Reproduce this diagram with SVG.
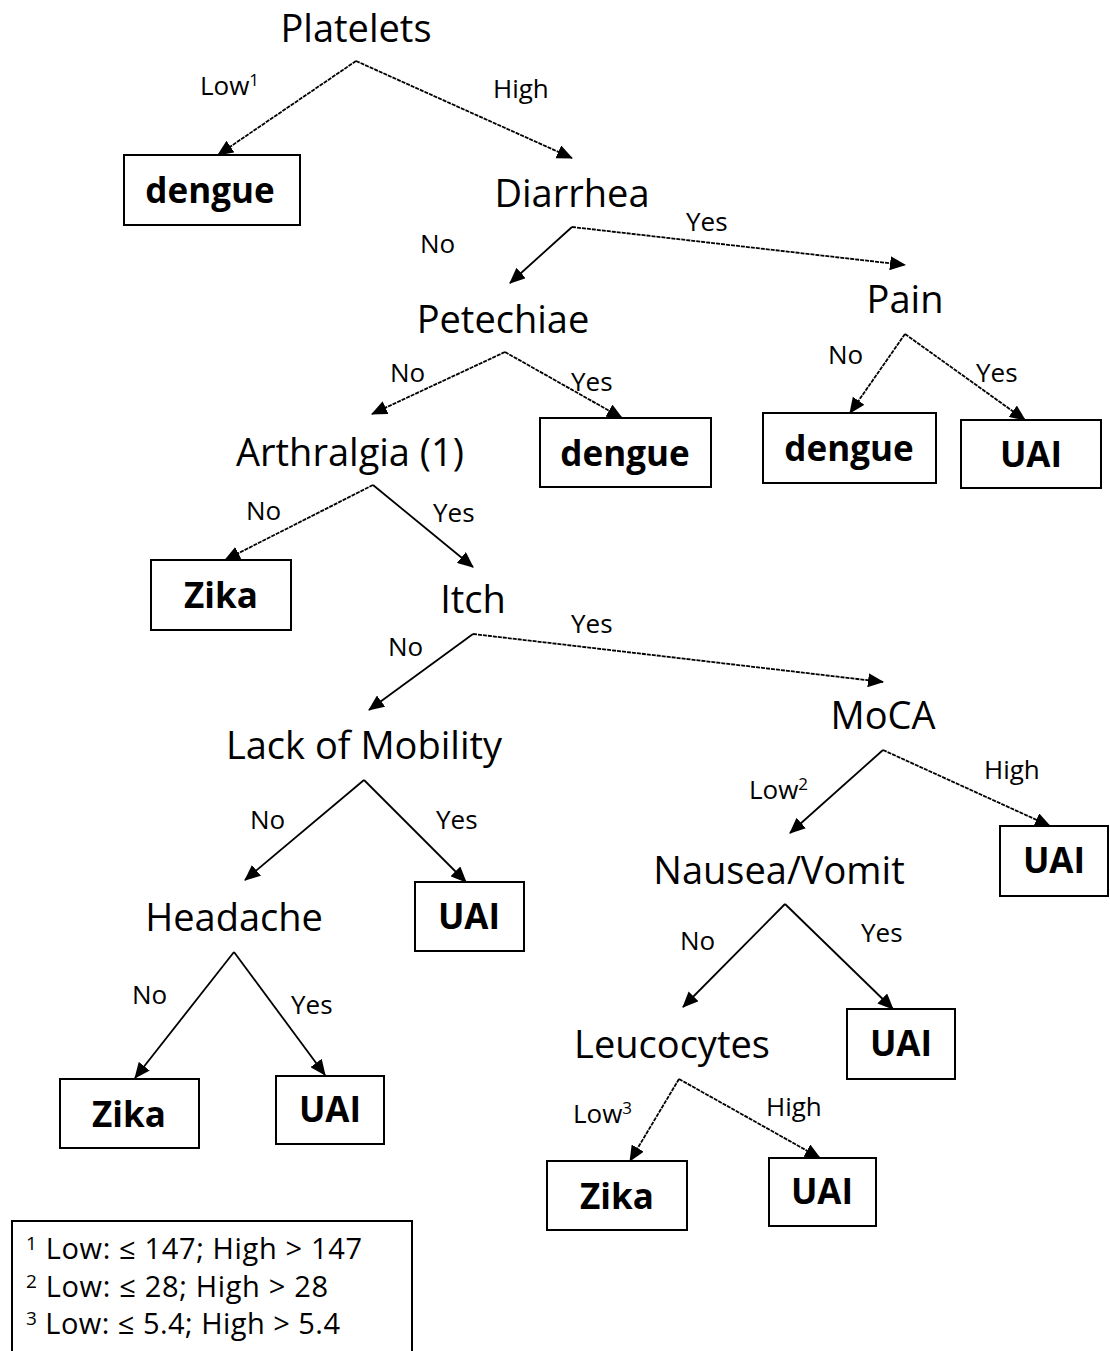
<svg xmlns="http://www.w3.org/2000/svg" width="1110" height="1351" viewBox="0 0 1110 1351">
<defs>
<style>
.lbl{font-family:"Open Sans","Liberation Sans",sans-serif;font-size:38px;fill:#000;text-anchor:middle}
.leaf{font-family:"Open Sans","Liberation Sans",sans-serif;font-size:35px;font-weight:bold;fill:#000;text-anchor:middle}
.edge{font-family:"Open Sans","Liberation Sans",sans-serif;font-size:26px;fill:#000}
.sup{font-size:17px}
.lsup{font-size:19px}
.box{fill:#fff;stroke:#000;stroke-width:2}
.con{fill:none;stroke:#000;stroke-width:1.8;marker-end:url(#arr)}
.dash{stroke-dasharray:4 1}
.leg{font-family:"Open Sans","Liberation Sans",sans-serif;font-size:29px;fill:#000}
</style>
<marker id="arr" markerUnits="userSpaceOnUse" markerWidth="16" markerHeight="14" refX="15" refY="7" orient="auto" viewBox="0 0 16 14">
<path d="M0,0 L16,7 L0,14 z" fill="#000"/>
</marker>
</defs>
<rect width="1110" height="1351" fill="#fff"/>

<g id="connectors">
<line class="con dash" x1="356" y1="61" x2="218" y2="155"/>
<line class="con dash" x1="356" y1="61" x2="572" y2="158"/>
<line class="con" x1="572" y1="227" x2="510" y2="283"/>
<line class="con dash" x1="572" y1="227" x2="905" y2="265"/>
<line class="con dash" x1="505" y1="352" x2="372" y2="414"/>
<line class="con dash" x1="505" y1="352" x2="622" y2="418"/>
<line class="con dash" x1="905" y1="334" x2="850" y2="413"/>
<line class="con dash" x1="905" y1="334" x2="1025" y2="420"/>
<line class="con dash" x1="373" y1="485" x2="225" y2="560"/>
<line class="con" x1="373" y1="485" x2="473" y2="567"/>
<line class="con" x1="473" y1="634" x2="369" y2="710"/>
<line class="con dash" x1="473" y1="634" x2="883" y2="682"/>
<line class="con" x1="364" y1="780" x2="245" y2="880"/>
<line class="con" x1="364" y1="780" x2="466" y2="882"/>
<line class="con" x1="234" y1="952" x2="135" y2="1078"/>
<line class="con" x1="234" y1="952" x2="325" y2="1075"/>
<line class="con" x1="883" y1="750" x2="790" y2="833"/>
<line class="con dash" x1="883" y1="750" x2="1050" y2="826"/>
<line class="con" x1="785" y1="904" x2="683" y2="1007"/>
<line class="con" x1="785" y1="904" x2="893" y2="1009"/>
<line class="con dash" x1="679" y1="1079" x2="630" y2="1161"/>
<line class="con dash" x1="679" y1="1079" x2="820" y2="1158"/>

<text class="edge" x="200" y="95">Low<tspan class="sup" dy="-9">1</tspan></text>
<text class="edge" x="493" y="98">High</text>
<text class="edge" x="420" y="253">No</text>
<text class="edge" x="686" y="231">Yes</text>
<text class="edge" x="390" y="382">No</text>
<text class="edge" x="571" y="391">Yes</text>
<text class="edge" x="828" y="364">No</text>
<text class="edge" x="976" y="382">Yes</text>
<text class="edge" x="246" y="520">No</text>
<text class="edge" x="433" y="522">Yes</text>
<text class="edge" x="388" y="656">No</text>
<text class="edge" x="571" y="633">Yes</text>
<text class="edge" x="250" y="829">No</text>
<text class="edge" x="436" y="829">Yes</text>
<text class="edge" x="132" y="1004">No</text>
<text class="edge" x="291" y="1014">Yes</text>
<text class="edge" x="749" y="799">Low<tspan class="sup" dy="-9">2</tspan></text>
<text class="edge" x="984" y="779">High</text>
<text class="edge" x="680" y="950">No</text>
<text class="edge" x="861" y="942">Yes</text>
<text class="edge" x="573" y="1123">Low<tspan class="sup" dy="-9">3</tspan></text>
<text class="edge" x="766" y="1116">High</text>
</g>

<g id="platelets"><text class="lbl" x="356" y="42">Platelets</text></g>
<g id="diarrhea"><text class="lbl" x="572" y="207">Diarrhea</text></g>
<g id="pain"><text class="lbl" x="905" y="313">Pain</text></g>
<g id="petechiae"><text class="lbl" x="503" y="333">Petechiae</text></g>
<g id="arthralgia"><text class="lbl" x="350" y="466">Arthralgia (1)</text></g>
<g id="itch"><text class="lbl" x="473" y="613">Itch</text></g>
<g id="moca"><text class="lbl" x="883" y="729">MoCA</text></g>
<g id="mobility"><text class="lbl" x="364" y="759">Lack of Mobility</text></g>
<g id="headache"><text class="lbl" x="234" y="931">Headache</text></g>
<g id="nausea"><text class="lbl" x="779" y="884">Nausea/Vomit</text></g>
<g id="leucocytes"><text class="lbl" x="672" y="1058">Leucocytes</text></g>

<g id="leaf-dengue1"><rect class="box" x="124" y="155" width="176" height="70"/><text class="leaf" x="210" y="203">dengue</text></g>
<g id="leaf-dengue2"><rect class="box" x="540" y="418" width="171" height="69"/><text class="leaf" x="625" y="466">dengue</text></g>
<g id="leaf-dengue3"><rect class="box" x="763" y="413" width="173" height="70"/><text class="leaf" x="849" y="461">dengue</text></g>
<g id="leaf-uai1"><rect class="box" x="961" y="420" width="140" height="68"/><text class="leaf" x="1031" y="467">UAI</text></g>
<g id="leaf-zika1"><rect class="box" x="151" y="560" width="140" height="70"/><text class="leaf" x="221" y="608">Zika</text></g>
<g id="leaf-uai2"><rect class="box" x="415" y="882" width="109" height="69"/><text class="leaf" x="469" y="929">UAI</text></g>
<g id="leaf-zika2"><rect class="box" x="60" y="1079" width="139" height="69"/><text class="leaf" x="129" y="1127">Zika</text></g>
<g id="leaf-uai3"><rect class="box" x="276" y="1076" width="108" height="68"/><text class="leaf" x="330" y="1122">UAI</text></g>
<g id="leaf-uai4"><rect class="box" x="1000" y="826" width="108" height="70"/><text class="leaf" x="1054" y="873">UAI</text></g>
<g id="leaf-uai5"><rect class="box" x="847" y="1009" width="108" height="70"/><text class="leaf" x="901" y="1056">UAI</text></g>
<g id="leaf-zika3"><rect class="box" x="547" y="1161" width="140" height="69"/><text class="leaf" x="617" y="1209">Zika</text></g>
<g id="leaf-uai6"><rect class="box" x="769" y="1158" width="107" height="68"/><text class="leaf" x="822" y="1204">UAI</text></g>

<g id="legend">
<rect class="box" x="12" y="1221" width="400" height="150"/>
<text class="leg" x="26" y="1259" textLength="336"><tspan class="lsup" dy="-9">1</tspan><tspan dy="9"> Low: ≤ 147; High &gt; 147</tspan></text>
<text class="leg" x="26" y="1297" textLength="302"><tspan class="lsup" dy="-9">2</tspan><tspan dy="9"> Low: ≤ 28; High &gt; 28</tspan></text>
<text class="leg" x="26" y="1334" textLength="314"><tspan class="lsup" dy="-9">3</tspan><tspan dy="9"> Low: ≤ 5.4; High &gt; 5.4</tspan></text>
</g>
</svg>
